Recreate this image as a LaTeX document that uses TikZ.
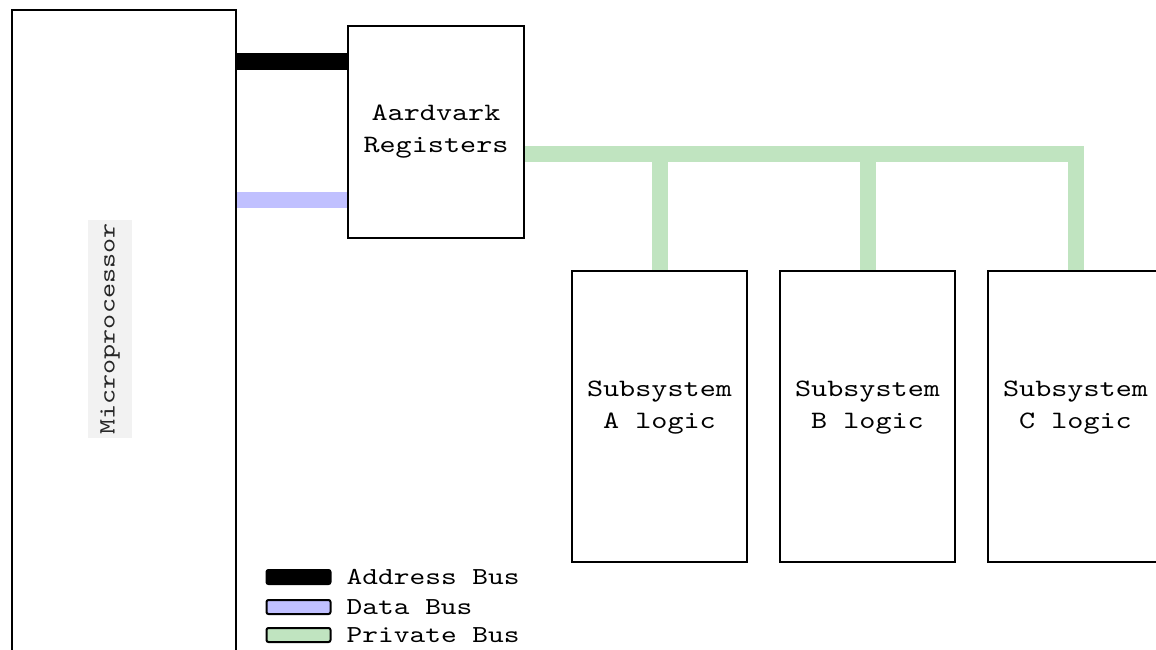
\documentclass[tikz,border=0pt]{standalone}
\usepackage{fontspec}
\newfontfamily\cour[FakeStretch=1.227]{lmmono10-regular.otf}
\usetikzlibrary{backgrounds}
\definecolor{databus}{RGB}{192,192,255}
\definecolor{privbus}{RGB}{192,228,192}
\begin{document}
\begin{tikzpicture}[x=1pt,y=-1pt,
  box/.style={draw=black,line width=2pt,inner sep=0pt},
  lbl/.style={font=\cour\fontsize{25}{32}\selectfont,align=center,inner sep=0pt},
  chiplbl/.style={font=\cour\fontsize{23.4}{30}\selectfont,text=black!85,fill=black!5,
    rotate=90,inner xsep=3pt,inner ysep=12pt},
  bus/.style={line width=16pt,line cap=butt,line join=miter},
  addrbus/.style={bus,draw=black,line width=17pt},
  datapath/.style={bus,draw=databus},
  privpath/.style={bus,draw=privbus},
  swatch/.style={draw=black,line width=2pt,rounded corners=2pt,
    minimum width=64pt,minimum height=14pt,inner sep=0pt},
  legtext/.style={font=\cour\fontsize{24.4}{30}\selectfont,anchor=west,inner sep=0pt}
]
\useasboundingbox (0,0) rectangle (1156,650);
\clip (0,0) rectangle (1156,650);

% processor, register block and the three subsystems
\node[box,minimum width=224pt,minimum height=700pt,anchor=north west] (mp) at (11,9) {};
\node[chiplbl] (mptext) at (110,329) {Microprocessor};

\node[box,minimum width=176pt,minimum height=212pt,anchor=north west] (ar) at (347,25) {};
\node[lbl] (artext) at (ar.center) {Aardvark\\Registers};

\node[box,minimum width=175pt,minimum height=291pt,anchor=north west] (sa) at (571,270) {};
\node[box,minimum width=175pt,minimum height=291pt,anchor=north west] (sb) at (779,270) {};
\node[box,minimum width=175pt,minimum height=291pt,anchor=north west] (sc) at (987,270) {};
\node[lbl,yshift=9pt] (satext) at (sa.center) {Subsystem\\A logic};
\node[lbl,yshift=9pt] (sbtext) at (sb.center) {Subsystem\\B logic};
\node[lbl,yshift=9pt] (sctext) at (sc.center) {Subsystem\\C logic};

% bus levels
\coordinate (ya) at (0,62);
\coordinate (yd) at (0,200);
\coordinate (yp) at (0,154);

% buses, drawn beneath the box outlines
\begin{pgfonlayer}{background}
\fill[white] (0,0) rectangle (1156,650);
\draw[addrbus] (mp.east |- ya) -- (ar.west |- ya);
\draw[datapath] (mp.east |- yd) -- (ar.west |- yd);
\draw[privpath] (ar.east |- yp) -- (sc.north |- yp) -- (sc.north);
\draw[privpath] (sa.north |- yp) -- (sa.north);
\draw[privpath] (sb.north |- yp) -- (sb.north);
\end{pgfonlayer}

% legend
\node[swatch,fill=black] (lga) at (298.5,577) {};
\node[swatch,fill=databus] (lgd) at (298.5,607) {};
\node[swatch,fill=privbus] (lgp) at (298.5,635) {};
\node[legtext] (lgatext) at ([xshift=15pt]lga.east) {Address Bus};
\node[legtext] (lgdtext) at ([xshift=15pt]lgd.east) {Data Bus};
\node[legtext] (lgptext) at ([xshift=15pt]lgp.east) {Private Bus};
\end{tikzpicture}
\end{document}
